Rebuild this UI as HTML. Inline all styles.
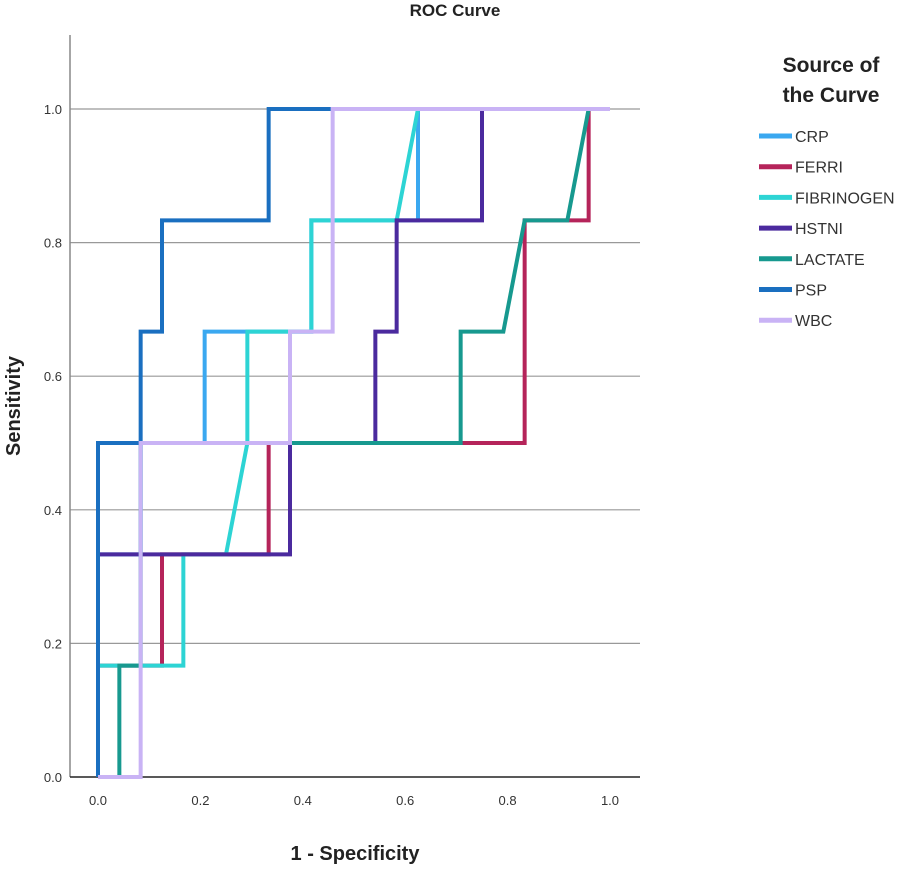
<!DOCTYPE html>
<html><head><meta charset="utf-8"><style>
body{margin:0;background:#fff;width:906px;height:868px;overflow:hidden;font-family:"Liberation Sans",sans-serif}
svg text{font-family:"Liberation Sans",sans-serif}
</style></head><body>
<svg id="chart" width="906" height="868" viewBox="0 0 906 868" xmlns="http://www.w3.org/2000/svg">
<text x="455" y="16" text-anchor="middle" font-size="17" font-weight="bold" fill="#222">ROC Curve</text>
<g id="grid"></g>
<line x1="70" y1="35" x2="70" y2="777" stroke="#888" stroke-width="1.5"/>
<line x1="70" y1="777" x2="640" y2="777" stroke="#222" stroke-width="1.5"/>
<g id="ticks"></g>
<g id="series"></g>
<text transform="translate(20,406) rotate(-90)" text-anchor="middle" font-size="20" font-weight="bold" fill="#222">Sensitivity</text>
<text x="355" y="860" text-anchor="middle" font-size="20" font-weight="bold" fill="#222">1 - Specificity</text>
<text x="831" y="72" text-anchor="middle" font-size="21" font-weight="bold" fill="#222">Source of</text>
<text x="831" y="102" text-anchor="middle" font-size="21" font-weight="bold" fill="#222">the Curve</text>
<g id="legend"></g>
</svg>
<script>
const names=["CRP","FERRI","FIBRINOGEN","HSTNI","LACTATE","PSP","WBC"];
const colors=["#3aa8f0","#b5245a","#2dd4d4","#4b2a9e","#17998f","#1a6fc0","#c9b3f5"];
const xTicks=[0,0.2,0.4,0.6,0.8,1.0];
const yTicks=[0,0.2,0.4,0.6,0.8,1.0];
const crpX=[0,0,0.0833,0.0833,0.2083,0.2083,0.4167,0.4167,0.625,0.625,1];
const crpY=[0,2/6,2/6,3/6,3/6,4/6,4/6,5/6,5/6,1,1];
const ferriX=[0,0,0.125,0.125,0.3333,0.3333,0.8333,0.8333,0.9583,0.9583,1];
const ferriY=[0,1/6,1/6,2/6,2/6,3/6,3/6,5/6,5/6,1,1];
const fibX=[0,0,0.1667,0.1667,0.25,0.2917,0.2917,0.4167,0.4167,0.5833,0.625,1];
const fibY=[0,1/6,1/6,2/6,2/6,3/6,4/6,4/6,5/6,5/6,1,1];
const hstX=[0,0,0.375,0.375,0.5417,0.5417,0.5833,0.5833,0.75,0.75,1];
const hstY=[0,2/6,2/6,3/6,3/6,4/6,4/6,5/6,5/6,1,1];
const lacX=[0,0.0417,0.0417,0.0833,0.0833,0.7083,0.7083,0.7917,0.8333,0.9167,0.9583,1];
const lacY=[0,0,1/6,1/6,3/6,3/6,4/6,4/6,5/6,5/6,1,1];
const pspX=[0,0,0.0833,0.0833,0.125,0.125,0.3333,0.3333,1];
const pspY=[0,3/6,3/6,4/6,4/6,5/6,5/6,1,1];
const wbcX=[0,0.0833,0.0833,0.375,0.375,0.4583,0.4583,1];
const wbcY=[0,0,3/6,3/6,4/6,4/6,1,1];
const seriesX=[crpX,ferriX,fibX,hstX,lacX,pspX,wbcX];
const seriesY=[crpY,ferriY,fibY,hstY,lacY,pspY,wbcY];
const sx=v=>98+v*512, sy=v=>777-v*668;
const NS="http://www.w3.org/2000/svg";
const grid=document.getElementById('grid'),ticks=document.getElementById('ticks'),ser=document.getElementById('series'),leg=document.getElementById('legend');
yTicks.forEach(t=>{
 if(t>0){const l=document.createElementNS(NS,'line');
 
 
 l.setAttribute('x1',70);l.setAttribute('x2',640);l.setAttribute('y1',sy(t));l.setAttribute('y2',sy(t));l.setAttribute('stroke','#999');l.setAttribute('stroke-width','1.2');grid.appendChild(l);}
 const tx=document.createElementNS(NS,'text');
 
 
 tx.setAttribute('x',62);tx.setAttribute('y',sy(t)+5);tx.setAttribute('text-anchor','end');tx.setAttribute('font-size','13');tx.setAttribute('fill','#333');tx.textContent=t.toFixed(1);ticks.appendChild(tx);
});
xTicks.forEach(t=>{
 const tx=document.createElementNS(NS,'text');
 
 
 tx.setAttribute('x',sx(t));tx.setAttribute('y',805);tx.setAttribute('text-anchor','middle');tx.setAttribute('font-size','13');tx.setAttribute('fill','#333');tx.textContent=t.toFixed(1);ticks.appendChild(tx);
});
names.forEach((n,i)=>{
 const p=document.createElementNS(NS,'polyline');
 
 
 p.setAttribute('points',seriesX[i].map((x,j)=>sx(x)+','+sy(seriesY[i][j])).join(' '));
 p.setAttribute('fill','none');p.setAttribute('stroke',colors[i]);p.setAttribute('stroke-width','4');p.setAttribute('stroke-linejoin','miter');
 ser.appendChild(p);
 const y=136+i*30.7;
 const s=document.createElementNS(NS,'line');
 
 
 s.setAttribute('x1',759);s.setAttribute('x2',792);s.setAttribute('y1',y);s.setAttribute('y2',y);s.setAttribute('stroke',colors[i]);s.setAttribute('stroke-width','5');leg.appendChild(s);
 const t=document.createElementNS(NS,'text');
 
 
 t.setAttribute('x',795);t.setAttribute('y',y+6);t.setAttribute('font-size','16');t.setAttribute('fill','#333');t.setAttribute('textLength',n.length*10.5>110?110:null);t.textContent=n;
 if(n.length*10.5<=110)t.removeAttribute('textLength');
 leg.appendChild(t);
});
</script>
</body></html>
